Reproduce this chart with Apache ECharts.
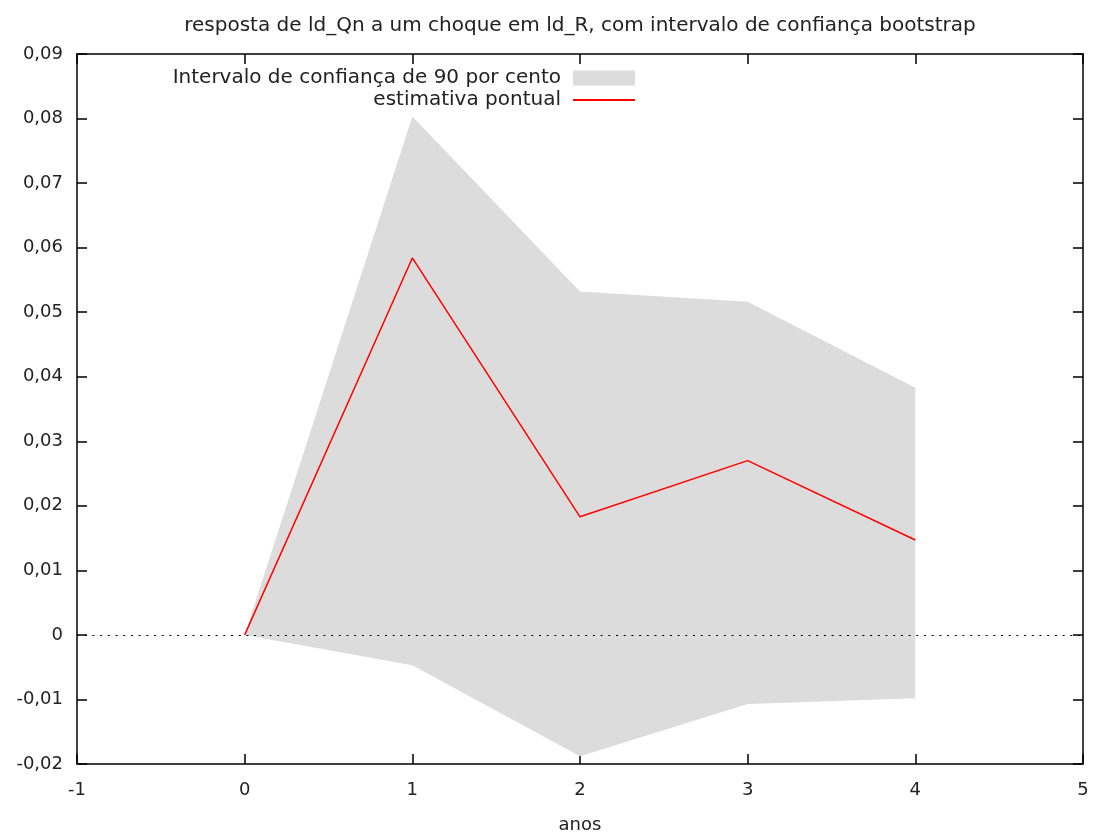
<!DOCTYPE html>
<html>
<head>
<meta charset="utf-8">
<script src="https://cdn.jsdelivr.net/npm/echarts@6/dist/echarts.min.js"></script>
<style>
  html, body { margin: 0; padding: 0; background: #fff; }
  #chart { width: 1094px; height: 833px; }
</style>
</head>
<body>
<div id="chart"></div>
<script>
// horizonte (anos) e valores
const anos = [0, 1, 2, 3, 4]
const estimativa = [0, 0.0584, 0.0183, 0.0270, 0.0147]
const limiteInf = [0, -0.0047, -0.0188, -0.0107, -0.0098]
const limiteSup = [0, 0.0803, 0.0532, 0.0516, 0.0383]
const xTicks = [-1, 0, 1, 2, 3, 4, 5]
const yTicks = [-0.02, -0.01, 0, 0.01, 0.02, 0.03, 0.04, 0.05, 0.06, 0.07, 0.08, 0.09]

const FONT = 'DejaVu Sans'
const nomeBanda = 'Intervalo de confiança de 90 por cento'
const nomeLinha = 'estimativa pontual'

const fmtY = v => (Math.abs(v) < 1e-9 ? '0' : v.toFixed(2).replace('.', ','))

const chart = echarts.init(document.getElementById('chart'))

const eixoX = (pos, labels) => ({
  type: 'value',
  position: pos,
  min: xTicks[0],
  max: xTicks[xTicks.length - 1],
  interval: 1,
  axisLine: { show: true, onZero: false, lineStyle: { color: '#000', width: 1.5 } },
  axisTick: { show: true, inside: true, length: 10, lineStyle: { color: '#000', width: 1.5 } },
  axisLabel: { show: labels, margin: 17, color: '#222', fontSize: 18, fontFamily: FONT },
  splitLine: { show: false }
})

const eixoY = (pos, labels) => ({
  type: 'value',
  position: pos,
  min: yTicks[0],
  max: yTicks[yTicks.length - 1],
  interval: 0.01,
  axisLine: { show: true, onZero: false, lineStyle: { color: '#000', width: 1.5 } },
  axisTick: { show: true, inside: true, length: 10, lineStyle: { color: '#000', width: 1.5 } },
  axisLabel: { show: labels, margin: 14, color: '#222', fontSize: 18, fontFamily: FONT, formatter: fmtY },
  splitLine: { show: false }
})

// faixa do intervalo: polígono superior -> inferior, desenhado uma vez
const desenhaBanda = (params, api) => {
  if (params.dataIndex !== 0) return null
  const pts = []
  anos.forEach((a, i) => pts.push(api.coord([a, limiteSup[i]])))
  for (let i = anos.length - 1; i >= 0; i--) pts.push(api.coord([anos[i], limiteInf[i]]))
  return {
    type: 'polygon',
    shape: { points: pts },
    style: { fill: '#dcdcdc', stroke: null }
  }
}

const option = {
  animation: false,
  backgroundColor: '#fff',
  title: {
    text: 'resposta de ld_Qn a um choque em ld_R, com intervalo de confiança bootstrap',
    left: 580,
    textAlign: 'center',
    top: 16,
    padding: 0,
    textStyle: { color: '#222', fontSize: 20, fontWeight: 'normal', fontFamily: FONT }
  },
  legend: [
    {
      data: [{ name: nomeBanda, itemStyle: { color: '#dcdcdc' } }],
      orient: 'vertical',
      align: 'right',
      right: 459,
      top: 68,
      padding: 0,
      icon: 'rect',
      itemWidth: 62,
      itemHeight: 15,
      selectedMode: false,
      textStyle: { color: '#222', fontSize: 20, fontFamily: FONT, padding: [0, 7, 0, 0] }
    },
    {
      data: [{ name: nomeLinha, itemStyle: { color: '#ff0000' } }],
      orient: 'vertical',
      align: 'right',
      right: 459,
      top: 90,
      padding: 0,
      icon: 'rect',
      itemWidth: 62,
      itemHeight: 2,
      selectedMode: false,
      textStyle: { color: '#222', fontSize: 20, fontFamily: FONT, padding: [0, 7, 0, 0] }
    }
  ],
  grid: { left: 77, right: 11, top: 54, bottom: 69, outerBoundsMode: 'none' },
  xAxis: [
    Object.assign(eixoX('bottom', true), {
      name: 'anos',
      nameLocation: 'middle',
      nameGap: 52,
      nameTextStyle: { color: '#222', fontSize: 18, fontFamily: FONT }
    }),
    eixoX('top', false)
  ],
  yAxis: [eixoY('left', true), eixoY('right', false)],
  series: [
    {
      name: nomeBanda,
      type: 'custom',
      renderItem: desenhaBanda,
      data: anos.map((a, i) => [a, limiteInf[i], limiteSup[i]]),
      encode: { x: 0, y: [1, 2] },
      itemStyle: { color: '#dcdcdc' },
      silent: true,
      z: 1
    },
    {
      name: nomeLinha,
      type: 'line',
      data: anos.map((a, i) => [a, estimativa[i]]),
      symbol: 'none',
      color: '#ff0000',
      lineStyle: { color: '#ff0000', width: 1.5 },
      z: 3,
      markLine: {
        silent: true,
        symbol: ['none', 'none'],
        label: { show: false },
        lineStyle: { color: '#000', width: 1.2, type: [2, 5.7] },
        data: [{ yAxis: 0 }]
      }
    }
  ]
}

chart.setOption(option)
</script>
</body>
</html>
